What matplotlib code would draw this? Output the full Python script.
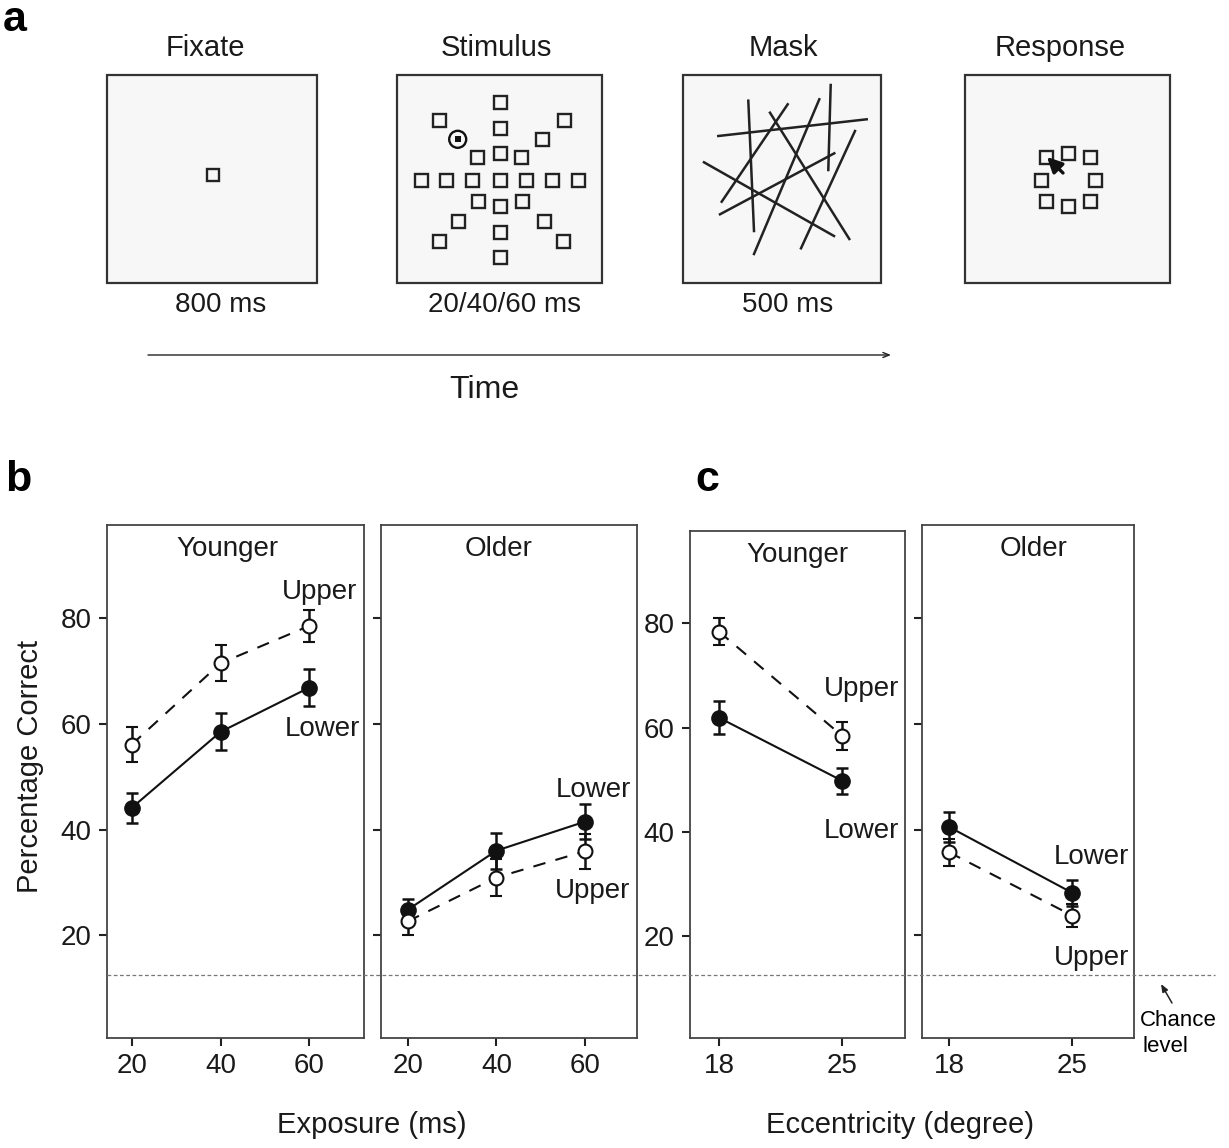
import numpy as np
import matplotlib
matplotlib.use("Agg")
import matplotlib.pyplot as plt
import matplotlib.patches as mpatches
import matplotlib.transforms as mtransforms

plt.rcParams['font.family'] = ['Liberation Sans', 'DejaVu Sans']

# ---- data (b: exposure, c: eccentricity) ----
exposure = [20, 40, 60]
ecc = [18, 25]

young_exp_upper = [56.1, 71.5, 78.6]
young_exp_upper_err = [3.3, 3.4, 3.0]
young_exp_lower = [44.1, 58.5, 66.9]
young_exp_lower_err = [2.9, 3.5, 3.5]

old_exp_upper = [22.6, 30.9, 35.9]
old_exp_upper_err = [2.5, 3.5, 3.3]
old_exp_lower = [24.8, 36.0, 41.5]
old_exp_lower_err = [2.0, 3.4, 3.3]

young_ecc_upper = [78.4, 58.4]
young_ecc_upper_err = [2.6, 2.7]
young_ecc_lower = [61.9, 49.8]
young_ecc_lower_err = [3.2, 2.5]

old_ecc_upper = [35.7, 23.7]
old_ecc_upper_err = [2.6, 2.1]
old_ecc_lower = [40.5, 28.0]
old_ecc_lower_err = [2.8, 2.5]

chance = 12.5
yticks = [20, 40, 60, 80]

# ---- panel a schematic (pixel coords of figure) ----
frame_titles = ["Fixate", "Stimulus", "Mask", "Response"]
frame_times = ["800 ms", "20/40/60 ms", "500 ms", ""]
frame_x0 = [107, 397, 683, 965]
frame_x1 = [317, 602, 881, 1170]
title_cx = [205, 496, 783, 1060]
time_cx = [221, 505, 788, 0]

stim_x = [500, 500, 500, 500, 500, 500, 500,
          421, 446.7, 472.3, 526.7, 552.7, 578.7,
          439, 477.3, 564.3, 542.3, 521.7,
          478.3, 458.3, 439, 522.3, 544, 563.3]
stim_y = [102.3, 128.3, 153.3, 180, 206, 232.3, 257.3,
          180, 180, 180, 180, 180, 180,
          120.7, 157.7, 120.7, 139.3, 157.7,
          201, 221, 241, 201, 221, 241]
target_xy = (457.7, 139.3)

resp_x = [1046, 1068.3, 1090, 1041, 1095.7, 1046, 1068.3, 1090.7]
resp_y = [157.7, 153.3, 157.7, 180, 180, 201, 206, 201]

mask_lines = [((718.3, 136), (866.7, 119.3)),
              ((748.3, 100.7), (754, 231)),
              ((787.7, 104.3), (721.7, 201.7)),
              ((819.3, 99.3), (754, 254)),
              ((830.7, 85), (828.3, 170)),
              ((770, 112.7), (849.3, 239)),
              ((704, 162.3), (834, 236)),
              ((834.3, 153.3), (720, 214.3)),
              ((855, 131), (801, 248.3))]

W, H = 1229, 1148
fig = plt.figure(figsize=(W / 100, H / 100), dpi=100)

ov = fig.add_axes([0, 0, 1, 1])
ov.set_xlim(0, W)
ov.set_ylim(H, 0)
ov.axis('off')
ov.patch.set_alpha(0)

def sq(ax, x, y, s=13, lw=1.7):
    ax.add_patch(mpatches.Rectangle((x - s / 2, y - s / 2), s, s, fill=False,
                                    ec='#222222', lw=lw))

for t, tm, x0, x1, tcx, mcx in zip(frame_titles, frame_times, frame_x0, frame_x1,
                                   title_cx, time_cx):
    ov.add_patch(mpatches.Rectangle((x0, 75), x1 - x0, 208, fc='#f7f7f7',
                                    ec='#333333', lw=1.6))
    ov.text(tcx, 48, t, fontsize=21, ha='center', va='center', color='#1a1a1a')
    if tm:
        ov.text(mcx, 305, tm, fontsize=20, ha='center', va='center', color='#1a1a1a')

sq(ov, 213, 175, 12)
for x, y in zip(stim_x, stim_y):
    sq(ov, x, y)
ov.add_patch(mpatches.Circle(target_xy, 8.5, fill=False, ec='#111111', lw=1.7))
ov.add_patch(mpatches.Rectangle((target_xy[0] - 3, target_xy[1] - 3), 6, 6,
                                fc='#111111', ec='none'))
for (xa, ya), (xb, yb) in mask_lines:
    ov.plot([xa, xb], [ya, yb], color='#222222', lw=1.8)
for x, y in zip(resp_x, resp_y):
    sq(ov, x, y)
ov.annotate('', xy=(1047, 157), xytext=(1063, 173),
            arrowprops=dict(arrowstyle='-|>,head_length=0.9,head_width=0.45',
                            color='#111111', lw=2.4, shrinkA=0, shrinkB=0))

ov.annotate('', xy=(891, 355), xytext=(148, 355),
            arrowprops=dict(arrowstyle='->,head_length=0.45,head_width=0.18',
                            color='#222222', lw=1.0, shrinkA=0, shrinkB=0))
ov.text(484, 390, "Time", fontsize=23, ha='center', va='center', color='#1a1a1a')

ov.text(15, 20, "a", fontsize=31, fontweight='bold', ha='center', va='center')
ov.text(18, 480, "b", fontsize=31, fontweight='bold', ha='center', va='center')
ov.text(707, 480, "c", fontsize=31, fontweight='bold', ha='center', va='center')

# ---- panels b, c ----
def ax_px(l, r, t, b):
    return fig.add_axes([l / W, 1 - b / H, (r - l) / W, (b - t) / H])

axes = [ax_px(107, 364, 525, 1038), ax_px(381, 637, 525, 1038),
        ax_px(690, 905, 531, 1038), ax_px(922, 1134, 525, 1038)]
xlims = [(14.44, 72.3), (13.97, 71.7), (16.35, 28.56), (16.47, 28.5)]
xs = [exposure, exposure, ecc, ecc]
uppers = [(young_exp_upper, young_exp_upper_err), (old_exp_upper, old_exp_upper_err),
          (young_ecc_upper, young_ecc_upper_err), (old_ecc_upper, old_ecc_upper_err)]
lowers = [(young_exp_lower, young_exp_lower_err), (old_exp_lower, old_exp_lower_err),
          (young_ecc_lower, young_ecc_lower_err), (old_ecc_lower, old_ecc_lower_err)]
titles = ["Younger", "Older", "Younger", "Older"]
title_x = [0.467, 0.461, 0.498, 0.528]
lab_pos = [((62.4, 85), (62.9, 59.1)), ((61.6, 28.4), (61.8, 47.5)),
           ((26.07, 67.4), (26.07, 40.2)), ((26.07, 15.7), (26.07, 34.8))]

for i, ax in enumerate(axes):
    x = xs[i]
    uy, ue = uppers[i]
    ly, le = lowers[i]
    ax.errorbar(x, ly, yerr=le, color='#111111', lw=1.5, ls='-', marker='o',
                ms=11, mfc='#111111', mec='#111111', capsize=4, elinewidth=1.8,
                capthick=1.8, zorder=3)
    ax.errorbar(x, uy, yerr=ue, color='#111111', lw=1.5, ls=(0, (6, 5)), marker='o',
                ms=10, mfc='white', mec='#111111', mew=1.5, capsize=4,
                elinewidth=1.8, capthick=1.8, zorder=4)
    ax.set_xlim(*xlims[i])
    ax.set_ylim(0.5, 97.7)
    ax.set_xticks(x)
    ax.set_yticks(yticks)
    if i in (1, 3):
        ax.set_yticklabels([])
    ax.tick_params(direction='out', length=6, width=1.5, labelsize=20, pad=5,
                   color='#222222', labelcolor='#1a1a1a')
    for s in ax.spines.values():
        s.set_color('#444444')
        s.set_linewidth(1.3)
    ax.text(title_x[i], 0.953, titles[i], transform=ax.transAxes, fontsize=20,
            ha='center', va='center', color='#1a1a1a')
    (ux, uyy), (lx, lyy) = lab_pos[i]
    ax.text(ux, uyy, "Upper", fontsize=20, ha='center', va='center', color='#1a1a1a')
    ax.text(lx, lyy, "Lower", fontsize=20, ha='center', va='center', color='#1a1a1a')

# chance line across all panels
tr = mtransforms.blended_transform_factory(fig.transFigure, axes[0].transData)
fig.add_artist(plt.Line2D([107 / W, 1215 / W], [chance, chance], transform=tr,
                          color='#777777', lw=0.9, ls=(0, (3, 2))))
ov.annotate('', xy=(1161, 984), xytext=(1172, 1003),
            arrowprops=dict(arrowstyle='-|>,head_length=0.45,head_width=0.18',
                            color='#222222', lw=1.1, shrinkA=0, shrinkB=0))
ov.text(1178, 1020, "Chance", fontsize=16, ha='center', va='center')
ov.text(1165, 1046, "level", fontsize=16, ha='center', va='center')

fig.text(30 / W, 1 - 766 / H, "Percentage Correct", rotation=90, fontsize=21,
         ha='center', va='center', color='#1a1a1a')
fig.text(372 / W, 1 - 1125 / H, "Exposure (ms)", fontsize=21, ha='center',
         va='center', color='#1a1a1a')
fig.text(900 / W, 1 - 1125 / H, "Eccentricity (degree)", fontsize=21, ha='center',
         va='center', color='#1a1a1a')

fig.savefig("out.png", dpi=100)
